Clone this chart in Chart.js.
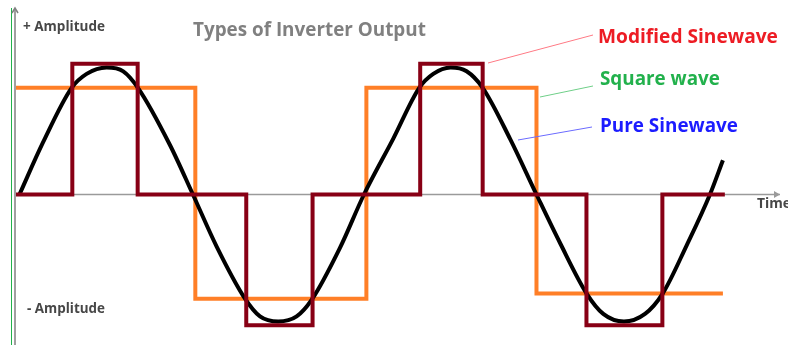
<!DOCTYPE html>
<html>
<head>
<meta charset="utf-8">
<script src="https://cdn.jsdelivr.net/npm/chart.js@4.4.0/dist/chart.umd.min.js"></script>
<style>
html,body{margin:0;padding:0;background:#fff;}
canvas{display:block;}
</style>
</head>
<body>
<canvas id="c" width="788" height="345"></canvas>
<script>
// ---- data (phase in degrees, amplitude relative to sine peak) ----
const sineTimes  = [0, 24.5, 54.3, 69.9, 90.7, 108, 123.3, 156.6, 180.5,
                    205.2, 234.7, 250.3, 269.3, 288.4, 304, 333.5, 358.5,
                    389, 416, 430.6, 448.7, 465.3, 482, 510.4, 538,
                    562.4, 590.2, 607.5, 629, 650.9, 669.3, 694.3, 718.5, 732];
const sineValues = [0, 0.41, 0.84, 0.95, 1.0, 0.97, 0.84, 0.39, 0,
                    -0.41, -0.82, -0.96, -1.0, -0.96, -0.83, -0.42, 0,
                    0.44, 0.84, 0.95, 1.0, 0.97, 0.84, 0.44, 0,
                    -0.38, -0.78, -0.94, -1.0, -0.94, -0.78, -0.40, 0, 0.27];

const squareTimes  = [-4, 183, 361, 538, 732];
const squareValues = [0.84, -0.82, 0.84, -0.78, -0.78];

const modTimes  = [-4, 55, 123, 236, 305, 417, 482, 590, 669, 734];
const modValues = [0, 1.03, 0, -1.03, 0, 1.03, 0, -1.03, 0, 0];

const xRange = [-3.6, 791.4];
const yRange = [-1.185, 1.4685];

const labels = {
  title: 'Types of Inverter Output',
  plus: '+ Amplitude',
  minus: '- Amplitude',
  time: 'Time',
  modified: 'Modified Sinewave',
  square: 'Square wave',
  pure: 'Pure Sinewave'
};

const pts = (xs, ys) => xs.map((x, i) => ({x: x, y: ys[i]}));

function fitText(ctx, text, x, y, width, color) {
  ctx.font = 'bold 20px "Open Sans"';
  const w = ctx.measureText(text).width;
  const size = 20 * width / w;
  ctx.font = 'bold ' + size.toFixed(2) + 'px "Open Sans"';
  ctx.fillStyle = color;
  ctx.fillText(text, x, y);
}

const decor = {
  id: 'decor',
  beforeDatasetsDraw(chart) {
    const ctx = chart.ctx, a = chart.chartArea;
    const y0 = chart.scales.y.getPixelForValue(0);
    ctx.save();
    // green side line
    ctx.strokeStyle = '#22b14c';
    ctx.lineWidth = 1;
    ctx.beginPath(); ctx.moveTo(11.5, 8); ctx.lineTo(11.5, 345); ctx.stroke();
    // y axis
    ctx.strokeStyle = '#808080';
    ctx.lineWidth = 1.5;
    ctx.beginPath(); ctx.moveTo(a.left - 1, a.top); ctx.lineTo(a.left - 1, a.bottom); ctx.stroke();
    ctx.beginPath(); ctx.moveTo(a.left - 4, a.top + 5); ctx.lineTo(a.left - 1, a.top); ctx.lineTo(a.left + 2, a.top + 5); ctx.stroke();
    // x axis
    ctx.strokeStyle = '#9a9a9a';
    ctx.beginPath(); ctx.moveTo(a.left, y0); ctx.lineTo(a.right, y0); ctx.stroke();
    ctx.fillStyle = '#9a9a9a';
    ctx.beginPath(); ctx.moveTo(a.right - 6, y0 - 3.5); ctx.lineTo(a.right, y0); ctx.lineTo(a.right - 6, y0 + 3.5); ctx.closePath(); ctx.fill();
    ctx.restore();
  },
  afterDatasetsDraw(chart) {
    const ctx = chart.ctx;
    ctx.save();
    ctx.textBaseline = 'alphabetic';
    ctx.textAlign = 'left';
    fitText(ctx, labels.title, 193, 36, 233, '#808080');
    fitText(ctx, labels.plus, 23, 31, 82, '#474747');
    fitText(ctx, labels.minus, 27, 313, 78, '#474747');
    fitText(ctx, labels.time, 757, 208, 34, '#474747');
    // leader lines
    ctx.lineWidth = 1;
    ctx.strokeStyle = '#ff7a85';
    ctx.beginPath(); ctx.moveTo(488, 63); ctx.lineTo(593, 35); ctx.stroke();
    ctx.strokeStyle = '#6fcf88';
    ctx.beginPath(); ctx.moveTo(540, 97); ctx.lineTo(593, 86); ctx.stroke();
    ctx.strokeStyle = '#6b6bff';
    ctx.beginPath(); ctx.moveTo(518, 140); ctx.lineTo(592, 127); ctx.stroke();
    fitText(ctx, labels.modified, 598, 43, 180, '#ed1c24');
    fitText(ctx, labels.square, 600, 85, 120, '#22b14c');
    fitText(ctx, labels.pure, 600, 132, 138, '#1c1cff');
    ctx.restore();
  }
};

new Chart(document.getElementById('c'), {
  type: 'line',
  data: {
    datasets: [
      {
        label: 'Modified Sinewave',
        data: pts(modTimes, modValues),
        borderColor: '#880015',
        borderWidth: 4,
        stepped: 'before',
        pointRadius: 0,
        fill: false,
        order: 1
      },
      {
        label: 'Pure Sinewave',
        data: pts(sineTimes, sineValues),
        borderColor: '#000000',
        borderWidth: 4,
        cubicInterpolationMode: 'monotone',
        pointRadius: 0,
        fill: false,
        order: 2
      },
      {
        label: 'Square wave',
        data: pts(squareTimes, squareValues),
        borderColor: '#ff7f27',
        borderWidth: 4,
        stepped: 'before',
        pointRadius: 0,
        fill: false,
        order: 3
      }
    ]
  },
  options: {
    responsive: false,
    animation: false,
    devicePixelRatio: 1,
    layout: { padding: { left: 16, right: 8, top: 8, bottom: 0 } },
    plugins: { legend: { display: false }, tooltip: { enabled: false }, title: { display: false } },
    scales: {
      x: { type: 'linear', min: xRange[0], max: xRange[1], display: false },
      y: { type: 'linear', min: yRange[0], max: yRange[1], display: false }
    }
  },
  plugins: [decor]
});
</script>
</body>
</html>
